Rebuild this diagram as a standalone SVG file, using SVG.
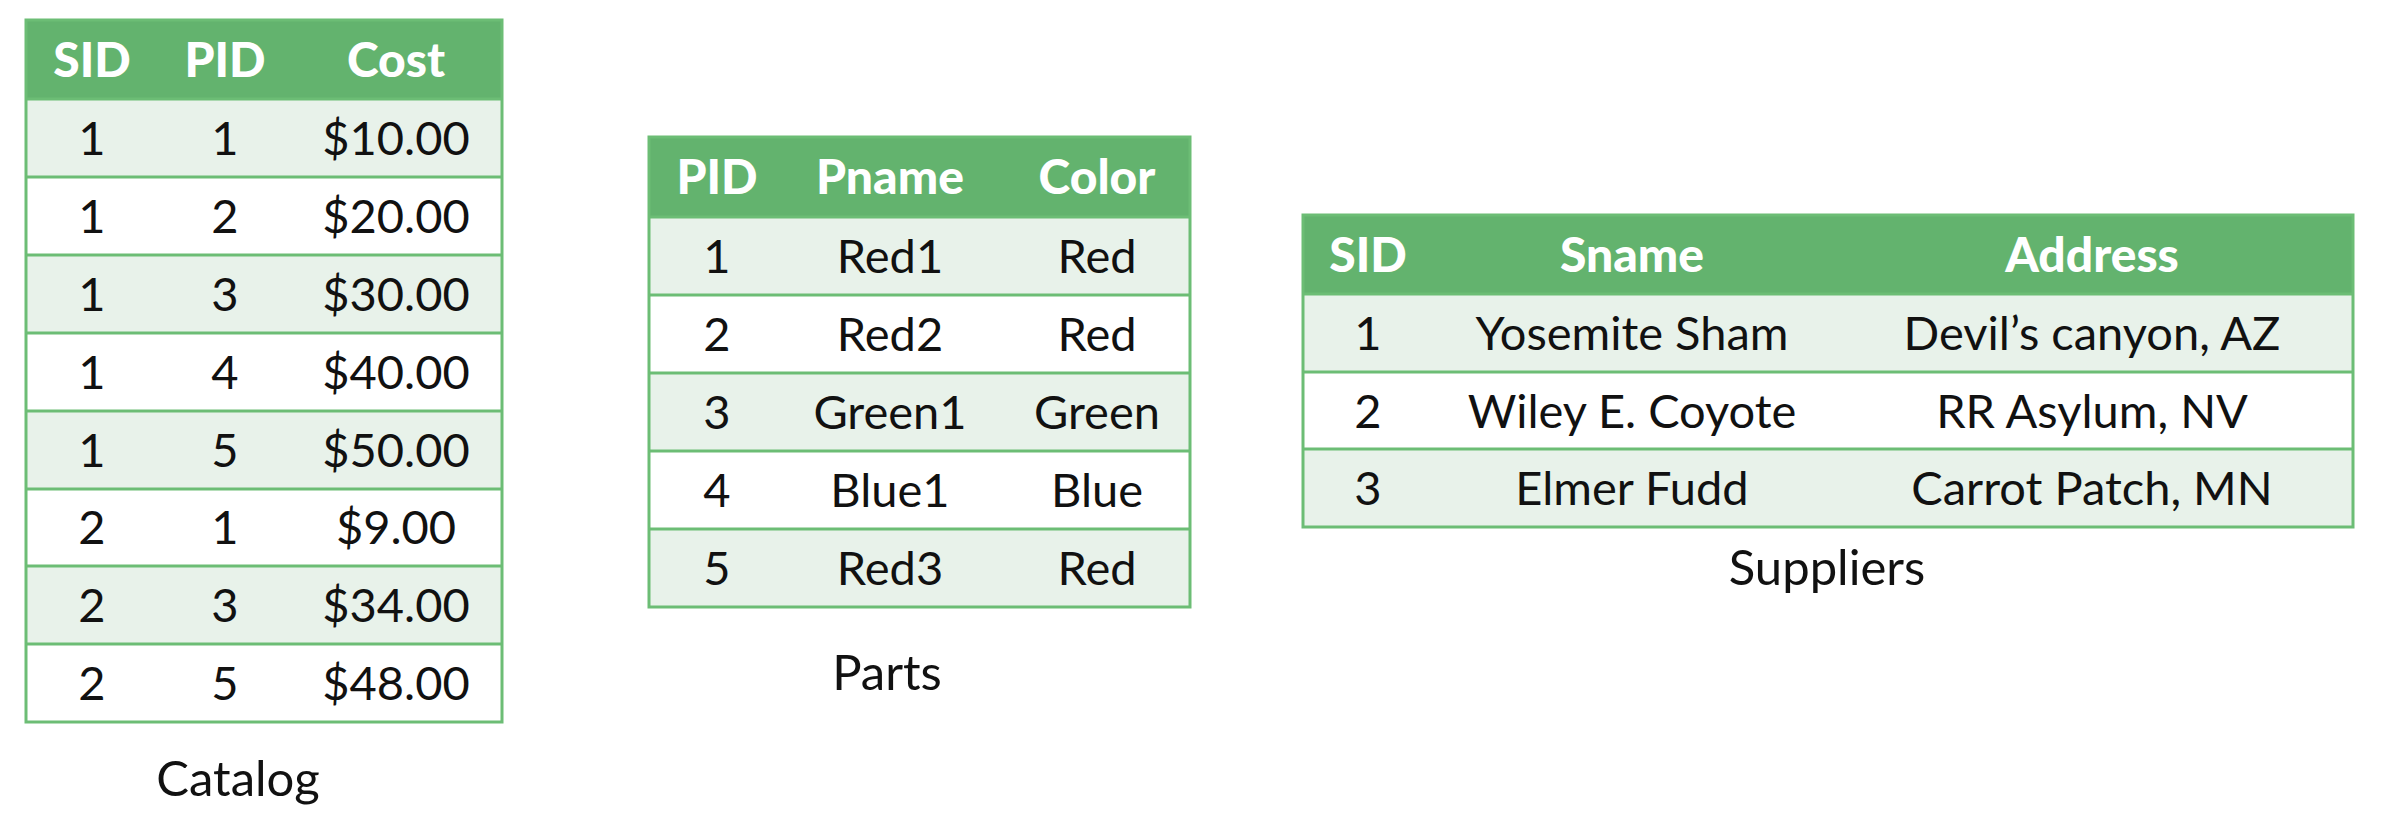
<svg xmlns="http://www.w3.org/2000/svg" width="2382" height="826" viewBox="0 0 2382 826">
<style>
.hdr{fill:#63b36e}
.lt{fill:#e8f2ea}
.wt{fill:#ffffff}
.ln{stroke:#6cbd75;stroke-width:3;fill:none}
text{font-family:Lato,"Open Sans","Liberation Sans",sans-serif;text-anchor:middle}
.h{font-size:48px;font-weight:900;fill:#ffffff}
.d{font-size:47px;fill:#111111}
.cap{font-size:49px;fill:#111111}
</style>
<rect width="2382" height="826" fill="#ffffff"/>

<g id="catalog">
<rect class="hdr" x="26" y="20" width="476" height="79"/>
<rect class="lt" x="26" y="99" width="476" height="78"/>
<rect class="wt" x="26" y="177" width="476" height="78"/>
<rect class="lt" x="26" y="255" width="476" height="78"/>
<rect class="wt" x="26" y="333" width="476" height="78"/>
<rect class="lt" x="26" y="411" width="476" height="78"/>
<rect class="wt" x="26" y="489" width="476" height="77"/>
<rect class="lt" x="26" y="566" width="476" height="78"/>
<rect class="wt" x="26" y="644" width="476" height="78"/>
<path class="ln" d="M26 20H502V722H26Z M26 99H502 M26 177H502 M26 255H502 M26 333H502 M26 411H502 M26 489H502 M26 566H502 M26 644H502"/>
<text class="h" x="92" y="77">SID</text><text class="h" x="225" y="77">PID</text><text class="h" x="396" y="77">Cost</text>
<text class="d" x="92" y="155">1</text><text class="d" x="225" y="155">1</text><text class="d" x="396" y="155">$10.00</text>
<text class="d" x="92" y="233">1</text><text class="d" x="225" y="233">2</text><text class="d" x="396" y="233">$20.00</text>
<text class="d" x="92" y="311">1</text><text class="d" x="225" y="311">3</text><text class="d" x="396" y="311">$30.00</text>
<text class="d" x="92" y="389">1</text><text class="d" x="225" y="389">4</text><text class="d" x="396" y="389">$40.00</text>
<text class="d" x="92" y="467">1</text><text class="d" x="225" y="467">5</text><text class="d" x="396" y="467">$50.00</text>
<text class="d" x="92" y="544">2</text><text class="d" x="225" y="544">1</text><text class="d" x="396" y="544">$9.00</text>
<text class="d" x="92" y="622">2</text><text class="d" x="225" y="622">3</text><text class="d" x="396" y="622">$34.00</text>
<text class="d" x="92" y="700">2</text><text class="d" x="225" y="700">5</text><text class="d" x="396" y="700">$48.00</text>
<text class="cap" x="238" y="796">Catalog</text>
</g>

<g id="parts">
<rect class="hdr" x="649" y="137" width="541" height="80"/>
<rect class="lt" x="649" y="217" width="541" height="78"/>
<rect class="wt" x="649" y="295" width="541" height="78"/>
<rect class="lt" x="649" y="373" width="541" height="78"/>
<rect class="wt" x="649" y="451" width="541" height="78"/>
<rect class="lt" x="649" y="529" width="541" height="78"/>
<path class="ln" d="M649 137H1190V607H649Z M649 217H1190 M649 295H1190 M649 373H1190 M649 451H1190 M649 529H1190"/>
<text class="h" x="717" y="194">PID</text><text class="h" x="890" y="194">Pname</text><text class="h" x="1097" y="194">Color</text>
<text class="d" x="717" y="273">1</text><text class="d" x="890" y="273">Red1</text><text class="d" x="1097" y="273">Red</text>
<text class="d" x="717" y="351">2</text><text class="d" x="890" y="351">Red2</text><text class="d" x="1097" y="351">Red</text>
<text class="d" x="717" y="429">3</text><text class="d" x="890" y="429">Green1</text><text class="d" x="1097" y="429">Green</text>
<text class="d" x="717" y="507">4</text><text class="d" x="890" y="507">Blue1</text><text class="d" x="1097" y="507">Blue</text>
<text class="d" x="717" y="585">5</text><text class="d" x="890" y="585">Red3</text><text class="d" x="1097" y="585">Red</text>
<text class="cap" x="887" y="690">Parts</text>
</g>

<g id="suppliers">
<rect class="hdr" x="1303" y="215" width="1050" height="79"/>
<rect class="lt" x="1303" y="294" width="1050" height="78"/>
<rect class="wt" x="1303" y="372" width="1050" height="77"/>
<rect class="lt" x="1303" y="449" width="1050" height="78"/>
<path class="ln" d="M1303 215H2353V527H1303Z M1303 294H2353 M1303 372H2353 M1303 449H2353"/>
<text class="h" x="1368" y="272">SID</text><text class="h" x="1632" y="272">Sname</text><text class="h" x="2092" y="272">Address</text>
<text class="d" x="1368" y="350">1</text><text class="d" x="1632" y="350">Yosemite Sham</text><text class="d" x="2092" y="350">Devil’s canyon, AZ</text>
<text class="d" x="1368" y="428">2</text><text class="d" x="1632" y="428">Wiley E. Coyote</text><text class="d" x="2092" y="428">RR Asylum, NV</text>
<text class="d" x="1368" y="505">3</text><text class="d" x="1632" y="505">Elmer Fudd</text><text class="d" x="2092" y="505">Carrot Patch, MN</text>
<text class="cap" x="1827" y="585">Suppliers</text>
</g>

<g id="connectors"></g>
</svg>
